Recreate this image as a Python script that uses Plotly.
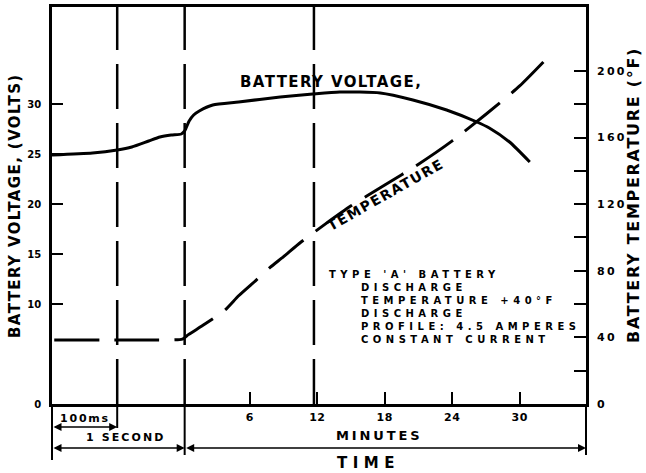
import plotly.graph_objects as go

# ---------------- data ----------------
# x positions: minutes after start of the minutes segment; negative values
# are the expanded "100ms" and "1 second" segments drawn left of minute 0.
volt_t = [-11.6, -8.0, -5.8, -4.5, -3.0, -2.0, -1.0, -0.1, 0.2, 0.6, 1.0, 1.5,
          2.7, 5.0, 8.7, 11.6, 14.0, 17.6, 20.5, 23.5, 26.2, 27.3, 29.1, 30.9]
volt_v = [24.9, 25.1, 25.4, 25.7, 26.3, 26.7, 26.9, 27.0, 27.3, 28.3, 28.9, 29.3,
          29.9, 30.2, 30.7, 31.0, 31.2, 31.1, 30.4, 29.4, 28.2, 27.6, 26.2, 24.2]

temp_t = [-11.4, -6.0, -3.0, 0.0, 0.5, 2.0, 3.8, 5.0, 6.5, 7.8, 9.0, 10.5,
          12.7, 15.0, 18.0, 21.0, 24.0, 27.0, 30.0, 32.7]
temp_f = [38.5, 38.5, 38.5, 39.0, 41.5, 48.0, 56.5, 65.0, 74.0, 82.0, 88.5, 97.0,
          108.0, 119.0, 131.5, 144.0, 158.0, 174.0, 191.0, 209.5]

minute_ticks = [6, 12, 18, 24, 30]
volt_ticks = [0, 10, 15, 20, 25, 30]
temp_ticks = [0, 20, 40, 60, 80, 100, 120, 140, 160, 180, 200]
temp_labels = ["0", "", "40", "", "80", "", "120", "", "160", "", "200"]

note_lines = ["TYPE 'A' BATTERY", "DISCHARGE", "TEMPERATURE +40°F", "DISCHARGE",
              "PROFILE: 4.5 AMPERES", "CONSTANT CURRENT"]

seg_100ms = -5.8   # boundary of the 100 ms segment
seg_1s = 0.2       # boundary of the 1 second segment (start of minutes)
ref_12min = 11.7   # dashed reference line near 12 minutes

# ---------------- layout helpers ----------------
W, H = 646, 473
ML, MR, MT, MB = 52, 60, 7, 69
PW, PH = W - ML - MR, H - MT - MB
X_RANGE = [-11.6, 35.9]
FONT = "DejaVu Sans"


def px(x):
    return (x - ML) / PW


def py(y):
    return (H - MB - y) / PH


def ls(s, sp):
    return '<span style="letter-spacing:%spx">%s</span>' % (sp, s)


def txt(s, x, y, size, sp, angle=0, xanchor="center"):
    return dict(text=ls(s, sp), x=px(x), y=py(y), xref="paper", yref="paper",
                showarrow=False, textangle=angle, xanchor=xanchor, yanchor="middle",
                font=dict(family=FONT, size=size, color="black", weight="bold"))


fig = go.Figure()
fig.add_trace(go.Scatter(
    x=volt_t, y=volt_v, mode="lines", yaxis="y", showlegend=False, hoverinfo="skip",
    line=dict(color="black", width=3, shape="spline", smoothing=0.6)))
fig.add_trace(go.Scatter(
    x=temp_t, y=temp_f, mode="lines", yaxis="y2", showlegend=False, hoverinfo="skip",
    line=dict(color="black", width=3, dash="45px,15px", shape="spline", smoothing=0.6)))

axis_common = dict(showline=True, linecolor="black", linewidth=2.5, ticks="inside",
                   tickcolor="black", tickwidth=2, showgrid=False, zeroline=False)

shapes = []
for v in (seg_100ms, seg_1s, ref_12min):
    shapes.append(dict(type="line", xref="x", yref="paper", x0=v, x1=v, y0=0, y1=1,
                       line=dict(color="black", width=2.5, dash="45px,14px")))
# bracket verticals below the time axis
shapes.append(dict(type="line", xref="paper", yref="paper", x0=0, x1=0, y0=0, y1=py(460),
                   line=dict(color="black", width=2)))
shapes.append(dict(type="line", xref="x", yref="paper", x0=seg_100ms, x1=seg_100ms, y0=0, y1=py(428),
                   line=dict(color="black", width=2)))
shapes.append(dict(type="line", xref="x", yref="paper", x0=seg_1s, x1=seg_1s, y0=0, y1=py(455),
                   line=dict(color="black", width=2)))
shapes.append(dict(type="line", xref="paper", yref="paper", x0=1, x1=1, y0=0, y1=py(455),
                   line=dict(color="black", width=2)))


def arrow(x0, x1, y):
    return dict(text="", xref="x", yref="paper", axref="x", ayref="pixel",
                x=x1, y=py(y), ax=x0, ay=0, showarrow=True, arrowside="end+start",
                arrowhead=2, arrowsize=1, arrowwidth=1.6, arrowcolor="black",
                standoff=0, startstandoff=0)


indent = "&nbsp;" * 4
note_text = "<br>".join(ls((indent if i else "") + s, 4.5) for i, s in enumerate(note_lines))

annotations = [
    arrow(X_RANGE[0], seg_100ms, 427),
    arrow(X_RANGE[0], seg_1s, 448),
    arrow(seg_1s, X_RANGE[1], 448),
    txt("BATTERY VOLTAGE,", 331, 82, 15, 1.4),
    txt("TEMPERATURE", 385, 195, 14, 1.5, angle=-29.5),
    dict(text=note_text, x=px(327), y=py(307), xref="paper", yref="paper",
         showarrow=False, xanchor="left", yanchor="middle", align="left",
         font=dict(family=FONT, size=10, color="black", weight="bold")),
    txt("BATTERY VOLTAGE, (VOLTS)", 15, 206, 15, 1.4, angle=-90),
    txt("BATTERY TEMPERATURE (°F)", 634, 195, 16, 1.7, angle=-90),
    txt("100ms", 85, 418, 11, 1.8),
    txt("1 SECOND", 125, 437, 11, 2.1),
    txt("MINUTES", 380, 435, 13, 2.9),
    txt("TIME", 368, 463, 15, 5.5),
]

tickfont = dict(family=FONT, size=11, color="black", weight="bold")

fig.update_layout(
    width=W, height=H, autosize=False,
    margin=dict(l=ML, r=MR, t=MT, b=MB, autoexpand=False),
    paper_bgcolor="white", plot_bgcolor="white", showlegend=False,
    xaxis=dict(range=X_RANGE, mirror=True, ticklen=12, tickvals=minute_ticks,
               ticktext=[ls(str(v), 0.5) for v in minute_ticks], ticklabelstandoff=1,
               tickfont=tickfont, **axis_common),
    yaxis=dict(range=[0, 39.7], ticklen=11, tickvals=volt_ticks,
               ticktext=[str(v) for v in volt_ticks], ticklabelstandoff=6,
               tickfont=dict(family=FONT, size=10, color="black", weight="bold"), **axis_common),
    yaxis2=dict(range=[0, 238.4], overlaying="y", side="right", ticklen=12,
                tickvals=temp_ticks, ticktext=[ls(t, 2.3) if t else "" for t in temp_labels],
                ticklabelstandoff=6, tickfont=tickfont, **axis_common),
    shapes=shapes,
    annotations=annotations,
)

fig.write_html("out.html", config={"displayModeBar": False},
               post_script="document.body.style.margin='0px';")
